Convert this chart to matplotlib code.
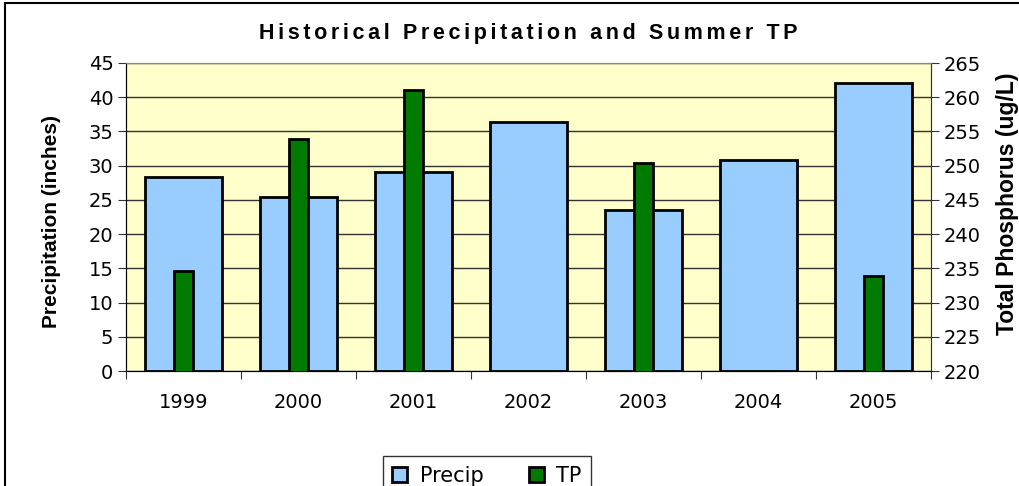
import numpy as np
import matplotlib
matplotlib.use("Agg")
import matplotlib.pyplot as plt
from matplotlib.patches import Rectangle

years = ["1999", "2000", "2001", "2002", "2003", "2004", "2005"]
precip = [28.4, 25.4, 29.1, 36.4, 23.5, 30.8, 42.1]
tp = [234.6, 253.9, 261.1, np.nan, 250.4, np.nan, 233.9]

plt.rcParams['font.family'] = ['DejaVu Sans']
fs = 14
arial = ['Liberation Sans', 'DejaVu Sans']

fig = plt.figure(figsize=(10.19, 4.86), dpi=100)
ax = fig.add_axes([126/1019, 1-371/486, (931-126)/1019, (371-63)/486])
ax2 = ax.twinx()

x = np.arange(len(years))
ax.set_facecolor('#FFFFCC')
ax.bar(x, precip, width=0.67, color='#99CCFF', edgecolor='black', linewidth=2.0, zorder=3, label='Precip')
ax2.bar(x, tp, width=0.16, color='#007A00', edgecolor='black', linewidth=2.0, zorder=3, label='TP')

ax.set_xlim(-0.5, len(years) - 0.5)
ax.set_ylim(0, 45)
ax2.set_ylim(220, 265)
ax.set_yticks(np.arange(0, 46, 5))
ax2.set_yticks(np.arange(220, 266, 5))
ax.yaxis.grid(True, color='#333333', linewidth=1.0, zorder=0)
ax.set_axisbelow(True)

ax.set_xticks(np.arange(-0.5, len(years), 1))
ax.set_xticklabels([])
ax.set_xticks(x, minor=True)
ax.set_xticklabels(years, minor=True)
ax.tick_params(axis='x', which='minor', length=0, pad=16, labelsize=fs)
ax.tick_params(axis='x', which='major', length=6, direction='out', color='#333333')
ax.tick_params(axis='y', labelsize=fs, length=6, color='#333333', pad=3)
ax2.tick_params(axis='y', labelsize=fs, length=6, color='#333333', pad=3)

for sp in ['top', 'right']:
    ax.spines[sp].set_color('#888888')
for sp in ['left', 'bottom']:
    ax.spines[sp].set_color('#333333')
ax2.spines['right'].set_color('#333333')
ax2.spines['top'].set_color('#888888')

ax.set_ylabel('Precipitation (inches)', fontsize=15, fontweight='bold', family=arial)
ax.yaxis.set_label_coords((61-126)/805, (371-221)/308)
ax2.set_ylabel('Total Phosphorus (ug/L)', fontsize=16.5, fontweight='bold', family=arial)
ax2.yaxis.set_label_coords((996-126)/805, (371-204)/308)

title = '\u2006'.join('Historical Precipitation and Summer TP')
fig.text(528/1019, 1-33/486, title, ha='center', va='center',
         fontsize=15.5, fontweight='bold', family=arial)

h1, l1 = ax.get_legend_handles_labels()
h2, l2 = ax2.get_legend_handles_labels()
leg = fig.legend(h1 + h2, l1 + l2, loc='upper center', bbox_to_anchor=(487/1019, 1-446/486),
                 ncol=2, fontsize=15, frameon=True, fancybox=False, edgecolor='black',
                 handlelength=0.7, handleheight=0.7, handletextpad=0.6,
                 columnspacing=2.2, borderpad=0.45)
leg.get_frame().set_linewidth(1.0)

fig.patches.append(Rectangle((5/1019, -0.1), 1.1, 1.1 - 3/486, transform=fig.transFigure,
                             fill=False, edgecolor='black', linewidth=1.5))

fig.savefig('out.png', dpi=100)
